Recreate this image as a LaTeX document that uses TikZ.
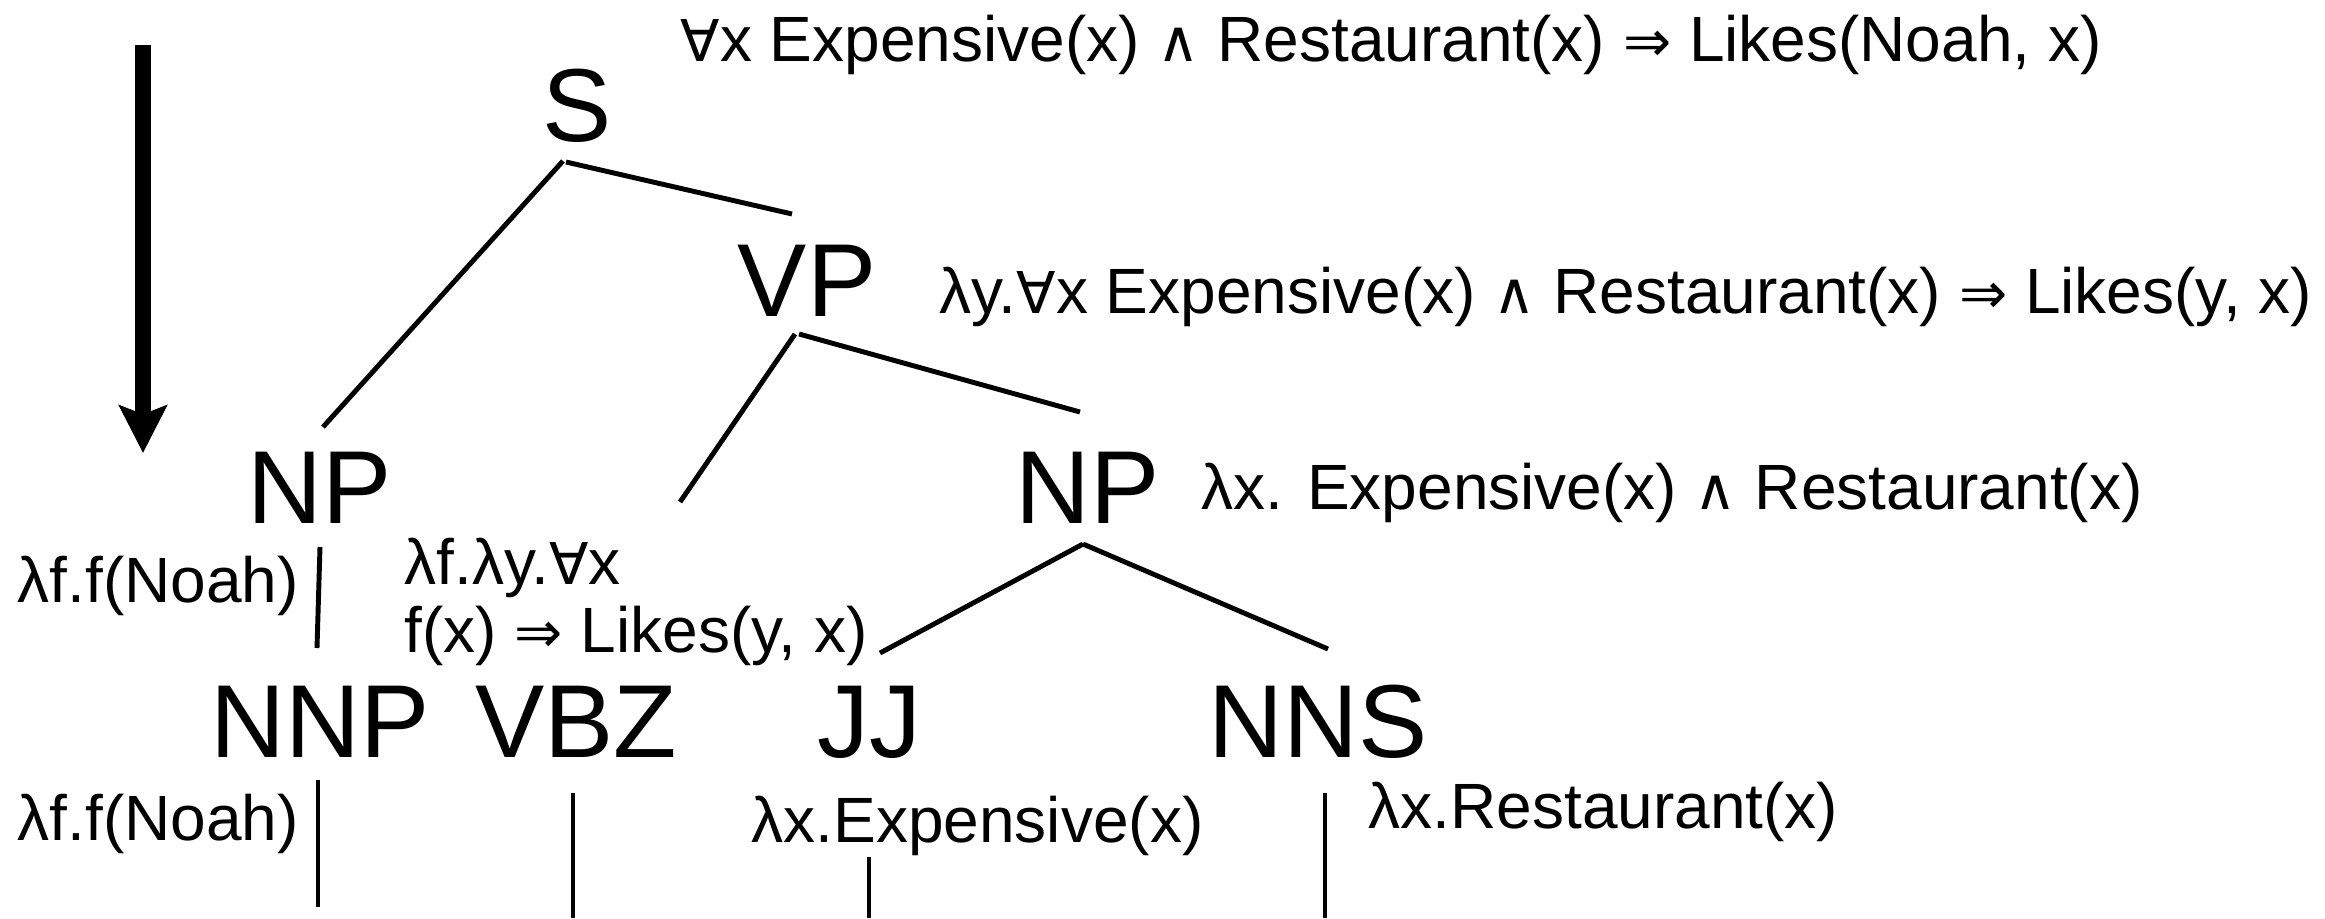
\documentclass[tikz,border=0pt]{standalone}
\usepackage{fontspec}
\setmainfont{Liberation Sans}
\newfontfamily\symf{DejaVu Sans}[Scale=0.9]
\usetikzlibrary{arrows.meta}
\newcommand{\symall}{{\symf ∀}}
\newcommand{\symand}{{\symf ∧}}
\newcommand{\symimp}{{\symf ⇒}}

\begin{document}
\begin{tikzpicture}[x=0.01cm, y=-0.01cm,
		cat/.style={font=\fontsize{29.5}{35}\selectfont, anchor=base, inner sep=0pt},
		sem/.style={font=\fontsize{18.2}{22}\selectfont, anchor=base west, inner sep=0pt},
		branch/.style={line width=1.4pt}]
		\useasboundingbox (0,0) rectangle (2325,918);

		% Direction arrow
		\coordinate (top) at (143,45);
		\coordinate (bot) at (143,453);
		\draw[-{Stealth[length=13.5pt,width=13.5pt,inset=2.5pt]}, line width=4.3pt] (top) -- (bot);

		% Categories
		\node[cat] (s) at (577,141) {S};
		\node[cat] (vp) at (807,316) {VP};
		\node[cat] (npl) at (320,523) {NP};
		\node[cat] (npr) at (1088,523) {NP};
		\node[cat] (nnp) at (320,757) {NNP};
		\node[cat] (vbz) at (576,757) {VBZ};
		\node[cat] (jj) at (869,757) {JJ};
		\node[cat] (nns) at (1318,757) {NNS};

		% Meanings
		\node[sem] (ssem) at (680,61) {\symall x Expensive(x) \symand{} Restaurant(x) \symimp{} Likes(Noah, x)};
		\node[sem] (vpsem) at (939,313) {λy.\symall x Expensive(x) \symand{} Restaurant(x) \symimp{} Likes(y, x)};
		\node[sem] (nprsem) at (1201,509) {λx. Expensive(x) \symand{} Restaurant(x)};
		\node[sem] (nplsem) at (17,602) {λf.f(Noah)};
		\node[sem] (vbzsema) at (404,584) {λf.λy.\symall x};
		\node[sem] (vbzsemb) at (404,652) {f(x) \symimp{} Likes(y, x)};
		\node[sem] (nnpsem) at (17,840) {λf.f(Noah)};
		\node[sem] (jjsem) at (751,842) {λx.Expensive(x)};
		\node[sem] (nnssem) at (1368,828) {λx.Restaurant(x)};

		% Branches
		\draw[branch] ([shift={(-14,20)}]s.base) -- ([shift={(3,-96)}]npl.base);
		\draw[branch] ([shift={(-11,21)}]s.base) -- ([shift={(-15,-102)}]vp.base);
		\draw[branch] ([shift={(-12,18)}]vp.base) -- ([shift={(104,-255)}]vbz.base);
		\draw[branch] ([shift={(-8,18)}]vp.base) -- ([shift={(-8,-111)}]npr.base);
		\draw[branch] ([shift={(0,24)}]npl.base) -- ([shift={(-3,-109)}]nnp.base);
		\draw[branch] ([shift={(-5,21)}]npr.base) -- ([shift={(11,-104)}]jj.base);
		\draw[branch] ([shift={(-5,21)}]npr.base) -- ([shift={(10,-108)}]nns.base);

		% Leaves
		\coordinate (nnpw) at (318,907);
		\coordinate (vbzw) at (573,918);
		\coordinate (jjw) at (869,918);
		\coordinate (nnsw) at (1325,918);
		\draw[branch] ([shift={(-2,23)}]nnp.base) -- (nnpw);
		\draw[branch] ([shift={(-3,36)}]vbz.base) -- (vbzw);
		\draw[branch] ([shift={(0,100)}]jj.base) -- (jjw);
		\draw[branch] ([shift={(7,36)}]nns.base) -- (nnsw);
	\end{tikzpicture}
\end{document}
